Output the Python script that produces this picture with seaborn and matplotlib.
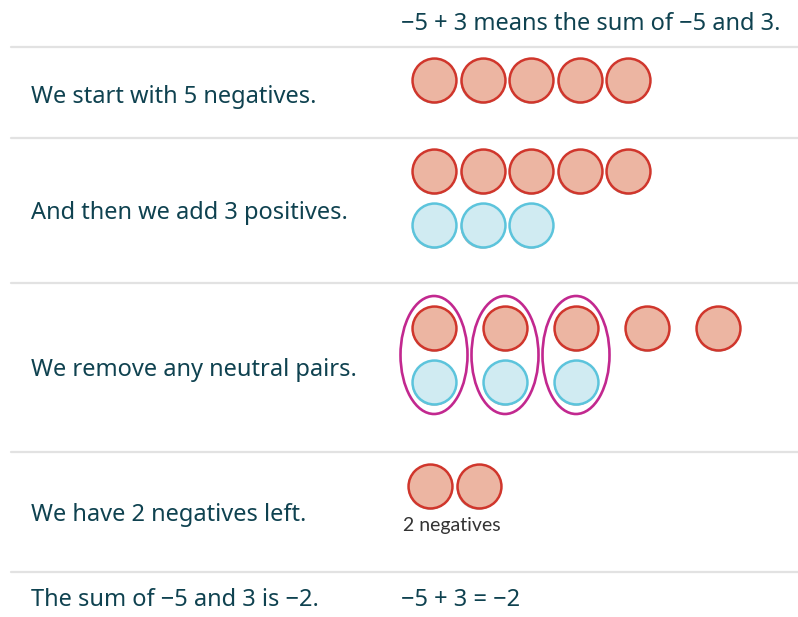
import matplotlib
matplotlib.use("Agg")
import matplotlib.pyplot as plt
from matplotlib.patches import Ellipse
import numpy as np
import pandas as pd
import seaborn as sns

# row texts (left column) and the header / result text (right column)
steps = ["We start with 5 negatives.",
         "And then we add 3 positives.",
         "We remove any neutral pairs.",
         "We have 2 negatives left.",
         "The sum of \u22125 and 3 is \u22122."]
header = "\u22125 + 3 means the sum of \u22125 and 3."
result = "\u22125 + 3 = \u22122"
left_note = "2 negatives"

# counters in each step
negatives = [5, 5, 5, 2]
positives = [0, 3, 3, 0]
pairs = [0, 0, 3, 0]

RED_FILL, RED_EDGE = "#ecb5a2", "#d0362c"
BLUE_FILL, BLUE_EDGE = "#d0ebf2", "#5cc4dc"
PAIR_EDGE = "#c2288f"
TEXT = "#0f4250"
RULE = "#e2e2e2"

sns.set_style("white")
plt.rcParams['font.family'] = ['Noto Sans', 'DejaVu Sans']

fig = plt.figure(figsize=(7.98, 6.17), dpi=100)
ax = fig.add_axes([0, 0, 1, 1])
ax.set_xlim(0, 798)
ax.set_ylim(617, 0)
ax.axis("off")

# table layout (pixels)
rules = [47, 138, 283, 452, 572]
text_y = [97, 213, 370, 515, 600]
neg_y = [80, 171, 328, 486]
pos_y = [None, 225, 382, None]
x0 = 434
step_tight = 48.5
step_wide = 71

for r in rules:
    ax.plot([11, 798], [r, r], color=RULE, lw=1.6, zorder=1)

FS = 17
ax.text(401, 24, header, fontsize=FS, color=TEXT, va="center", ha="left")
for t, y in zip(steps, text_y):
    ax.text(31, y, t, fontsize=FS, color=TEXT, va="center", ha="left")
ax.text(401, text_y[-1], result, fontsize=FS, color=TEXT, va="center", ha="left")

rows = []
for i in range(len(negatives)):
    step = step_wide if pairs[i] else step_tight
    for k in range(negatives[i]):
        rows.append({"x": x0 + k * step, "y": neg_y[i], "kind": "neg"})
    for k in range(positives[i]):
        rows.append({"x": x0 + k * step, "y": pos_y[i], "kind": "pos"})
    for k in range(pairs[i]):
        ax.add_patch(Ellipse((x0 + k * step, (neg_y[i] + pos_y[i]) / 2), 67, 118,
                             fill=False, ec=PAIR_EDGE, lw=1.9, zorder=5))
counters = pd.DataFrame(rows)
# row 4 counters sit a little further left
counters.loc[(counters["y"] == neg_y[3]), "x"] -= 4

size = 1000
shadow = counters.copy()
shadow["y"] += 1.8
sns.scatterplot(data=shadow, x="x", y="y", s=size, color="#8a8a8a", edgecolor="none",
                alpha=0.6, ax=ax, legend=False, zorder=2)
for kind, fc, ec in [("neg", RED_FILL, RED_EDGE), ("pos", BLUE_FILL, BLUE_EDGE)]:
    sub = counters[counters["kind"] == kind]
    sns.scatterplot(data=sub, x="x", y="y", s=size, color=fc, edgecolor=ec,
                    linewidth=1.8, ax=ax, legend=False, zorder=3)

ax.text(403, 526, left_note, fontsize=14, color="#333333", va="center", ha="left",
        family=["Lato", "DejaVu Sans"])

fig.savefig("out.png", dpi=100)
